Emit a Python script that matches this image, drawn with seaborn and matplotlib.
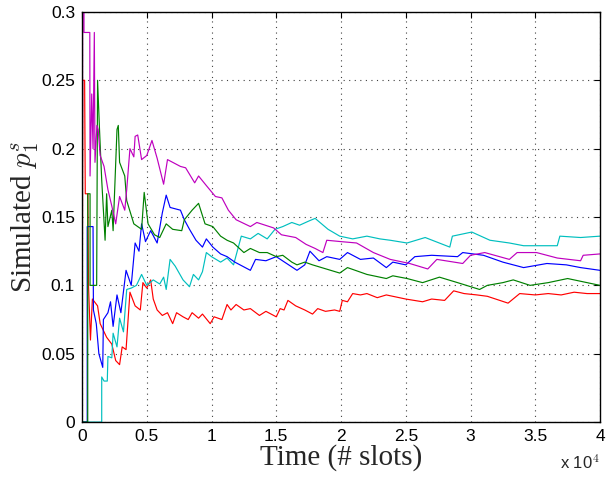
import numpy as np
import pandas as pd
import seaborn as sns
import matplotlib
matplotlib.use("Agg")
import matplotlib.pyplot as plt

# time in units of 10^4 slots, simulated p_1^s
red_t = [0.000, 0.006, 0.020, 0.025, 0.045, 0.050, 0.065, 0.080, 0.120, 0.140, 0.190, 0.230, 0.260,
         0.290, 0.310, 0.340, 0.370, 0.410, 0.450, 0.470, 0.500, 0.530, 0.550, 0.580, 0.620, 0.660,
         0.700, 0.730, 0.780, 0.820, 0.850, 0.900, 0.930, 0.990, 1.020, 1.080, 1.120, 1.150, 1.190,
         1.250, 1.300, 1.370, 1.420, 1.500, 1.530, 1.560, 1.590, 1.650, 1.720, 1.780, 1.820, 1.880,
         1.950, 1.990, 2.010, 2.050, 2.090, 2.150, 2.200, 2.280, 2.350, 2.400, 2.500, 2.630, 2.700,
         2.800, 2.870, 2.950, 3.050, 3.130, 3.290, 3.380, 3.500, 3.600, 3.700, 3.800, 3.900, 4.000]
red_p = [0.000, 0.250, 0.250, 0.167, 0.167, 0.100, 0.060, 0.090, 0.085, 0.072, 0.062, 0.057, 0.045,
         0.042, 0.055, 0.053, 0.095, 0.085, 0.082, 0.102, 0.098, 0.104, 0.090, 0.082, 0.078, 0.080,
         0.072, 0.080, 0.077, 0.075, 0.080, 0.076, 0.079, 0.072, 0.077, 0.075, 0.086, 0.082, 0.086,
         0.082, 0.083, 0.078, 0.081, 0.077, 0.083, 0.082, 0.089, 0.085, 0.082, 0.079, 0.083, 0.081,
         0.082, 0.081, 0.089, 0.088, 0.094, 0.093, 0.094, 0.091, 0.093, 0.092, 0.090, 0.088, 0.090,
         0.089, 0.096, 0.094, 0.093, 0.092, 0.087, 0.094, 0.093, 0.094, 0.093, 0.095, 0.094, 0.094]

green_t = [0.000, 0.044, 0.044, 0.062, 0.062, 0.113, 0.120, 0.135, 0.152, 0.178, 0.190, 0.200, 0.230,
           0.240, 0.270, 0.280, 0.290, 0.330, 0.345, 0.400, 0.460, 0.480, 0.510, 0.560, 0.600, 0.650,
           0.700, 0.770, 0.790, 0.850, 0.900, 0.950, 1.010, 1.070, 1.120, 1.170, 1.250, 1.300, 1.370,
           1.430, 1.500, 1.550, 1.620, 1.660, 1.720, 1.780, 1.850, 1.990, 2.050, 2.200, 2.350, 2.400,
           2.510, 2.630, 2.760, 2.900, 3.070, 3.130, 3.250, 3.330, 3.460, 3.600, 3.750, 3.900, 4.000]
green_p = [0.000, 0.000, 0.167, 0.167, 0.100, 0.100, 0.250, 0.214, 0.177, 0.133, 0.167, 0.143, 0.155,
           0.140, 0.214, 0.217, 0.190, 0.180, 0.162, 0.145, 0.141, 0.168, 0.145, 0.137, 0.135, 0.145,
           0.141, 0.140, 0.148, 0.155, 0.160, 0.145, 0.143, 0.136, 0.133, 0.131, 0.124, 0.127, 0.124,
           0.124, 0.121, 0.122, 0.117, 0.115, 0.117, 0.115, 0.113, 0.109, 0.113, 0.108, 0.105, 0.107,
           0.105, 0.102, 0.106, 0.102, 0.097, 0.100, 0.102, 0.104, 0.100, 0.102, 0.105, 0.102, 0.100]

blue_t = [0.000, 0.040, 0.040, 0.085, 0.088, 0.110, 0.130, 0.160, 0.165, 0.200, 0.220, 0.240, 0.270,
          0.300, 0.340, 0.380, 0.410, 0.440, 0.460, 0.490, 0.530, 0.580, 0.620, 0.650, 0.680, 0.760,
          0.790, 0.830, 0.880, 0.930, 0.960, 1.010, 1.070, 1.120, 1.180, 1.240, 1.300, 1.340, 1.420,
          1.500, 1.580, 1.660, 1.720, 1.760, 1.830, 1.890, 1.990, 2.050, 2.150, 2.250, 2.350, 2.400,
          2.500, 2.570, 2.700, 2.900, 2.940, 3.100, 3.250, 3.410, 3.590, 3.740, 3.850, 4.000]
blue_p = [0.000, 0.000, 0.143, 0.143, 0.082, 0.072, 0.050, 0.040, 0.075, 0.080, 0.088, 0.070, 0.093,
          0.080, 0.111, 0.100, 0.131, 0.125, 0.145, 0.132, 0.140, 0.131, 0.153, 0.166, 0.157, 0.155,
          0.148, 0.141, 0.133, 0.128, 0.134, 0.128, 0.123, 0.121, 0.117, 0.114, 0.111, 0.119, 0.118,
          0.121, 0.116, 0.111, 0.115, 0.125, 0.118, 0.121, 0.119, 0.124, 0.119, 0.120, 0.113, 0.117,
          0.115, 0.121, 0.122, 0.121, 0.124, 0.122, 0.117, 0.113, 0.116, 0.115, 0.113, 0.111]

cyan_t = [0.000, 0.152, 0.152, 0.170, 0.195, 0.200, 0.230, 0.240, 0.270, 0.290, 0.320, 0.345, 0.380,
          0.420, 0.460, 0.500, 0.550, 0.600, 0.630, 0.650, 0.680, 0.720, 0.780, 0.830, 0.860, 0.900,
          0.930, 0.960, 1.000, 1.070, 1.120, 1.170, 1.230, 1.300, 1.360, 1.430, 1.490, 1.550, 1.620,
          1.680, 1.750, 1.800, 1.900, 1.990, 2.090, 2.200, 2.300, 2.380, 2.510, 2.650, 2.840, 2.860,
          3.010, 3.150, 3.300, 3.410, 3.670, 3.690, 3.850, 4.000]
cyan_p = [0.000, 0.000, 0.033, 0.030, 0.030, 0.048, 0.047, 0.065, 0.055, 0.076, 0.066, 0.097, 0.098,
          0.100, 0.108, 0.100, 0.104, 0.101, 0.106, 0.097, 0.119, 0.114, 0.104, 0.099, 0.108, 0.104,
          0.110, 0.124, 0.121, 0.117, 0.120, 0.115, 0.136, 0.134, 0.138, 0.134, 0.141, 0.143, 0.146,
          0.144, 0.147, 0.149, 0.141, 0.136, 0.134, 0.136, 0.134, 0.133, 0.131, 0.135, 0.128, 0.136,
          0.139, 0.133, 0.131, 0.129, 0.129, 0.136, 0.135, 0.136]

magenta_t = [0.000, 0.005, 0.015, 0.015, 0.060, 0.062, 0.075, 0.085, 0.095, 0.100, 0.115, 0.125, 0.140,
             0.170, 0.200, 0.230, 0.260, 0.290, 0.330, 0.345, 0.370, 0.400, 0.410, 0.430, 0.460, 0.500,
             0.540, 0.580, 0.630, 0.660, 0.700, 0.760, 0.800, 0.870, 0.900, 0.960, 1.030, 1.080, 1.130,
             1.190, 1.300, 1.350, 1.480, 1.540, 1.650, 1.730, 1.800, 1.860, 1.890, 2.000, 2.120, 2.250,
             2.380, 2.530, 2.670, 2.740, 2.940, 3.000, 3.110, 3.300, 3.360, 3.510, 3.670, 3.850, 3.870, 4.000]
magenta_p = [0.000, 0.300, 0.300, 0.285, 0.285, 0.180, 0.240, 0.200, 0.285, 0.190, 0.217, 0.214, 0.195,
             0.187, 0.170, 0.158, 0.145, 0.165, 0.155, 0.170, 0.200, 0.194, 0.209, 0.210, 0.192, 0.195,
             0.206, 0.193, 0.174, 0.192, 0.190, 0.187, 0.186, 0.175, 0.180, 0.173, 0.165, 0.164, 0.155,
             0.148, 0.143, 0.146, 0.142, 0.137, 0.135, 0.130, 0.127, 0.124, 0.133, 0.132, 0.131, 0.124,
             0.119, 0.116, 0.112, 0.119, 0.116, 0.122, 0.124, 0.119, 0.124, 0.124, 0.120, 0.118, 0.122, 0.123]

series = {
    "red": (red_t, red_p),
    "cyan": (cyan_t, cyan_p),
    "blue": (blue_t, blue_p),
    "green": (green_t, green_p),
    "magenta": (magenta_t, magenta_p),
}
colors = {"red": "#ff0000", "green": "#008000", "blue": "#0000ff",
          "cyan": "#00bfbf", "magenta": "#bf00bf"}

frames = []
for name, (t, p) in series.items():
    frames.append(pd.DataFrame({"run": name, "time": t, "p": p}))
df = pd.concat(frames, ignore_index=True)

sns.set_style("white")
plt.rcParams["mathtext.fontset"] = "cm"

fig = plt.figure(figsize=(6.14, 4.78), dpi=100)
ax = fig.add_axes([0.1336, 0.117, 0.8436, 0.858])

sns.lineplot(data=df, x="time", y="p", hue="run", palette=colors, estimator=None,
             sort=False, units="run", legend=False, linewidth=0.85, ax=ax)

ax.set_xlim(0, 4)
ax.set_ylim(0, 0.3)
ax.set_xticks(np.arange(0, 4.01, 0.5))
ax.set_xticklabels(["0", "0.5", "1", "1.5", "2", "2.5", "3", "3.5", "4"])
ax.set_yticks(np.arange(0, 0.301, 0.05))
ax.set_yticklabels(["0", "0.05", "0.1", "0.15", "0.2", "0.25", "0.3"])
ax.tick_params(direction="in", top=True, right=True, length=4, width=0.8,
               labelsize=12.5, pad=5, colors="black")
for lab in ax.get_xticklabels() + ax.get_yticklabels():
    lab.set_family("Liberation Sans")

ax.grid(True, linestyle=(0, (1, 4)), color="0.25", linewidth=0.8)
for s in ax.spines.values():
    s.set_color("black")
    s.set_linewidth(1.0)

ax.set_xlabel("Time (# slots)", family="Liberation Serif", fontsize=21, labelpad=0)
ax.set_ylabel("Simulated $p_1^s$", family="Liberation Serif", fontsize=21, labelpad=0)
fig.text(0.977, 0.012, "x 10$^{4}$", ha="right", va="bottom", fontsize=12, family="Liberation Sans")

fig.savefig("out.png", dpi=100)
